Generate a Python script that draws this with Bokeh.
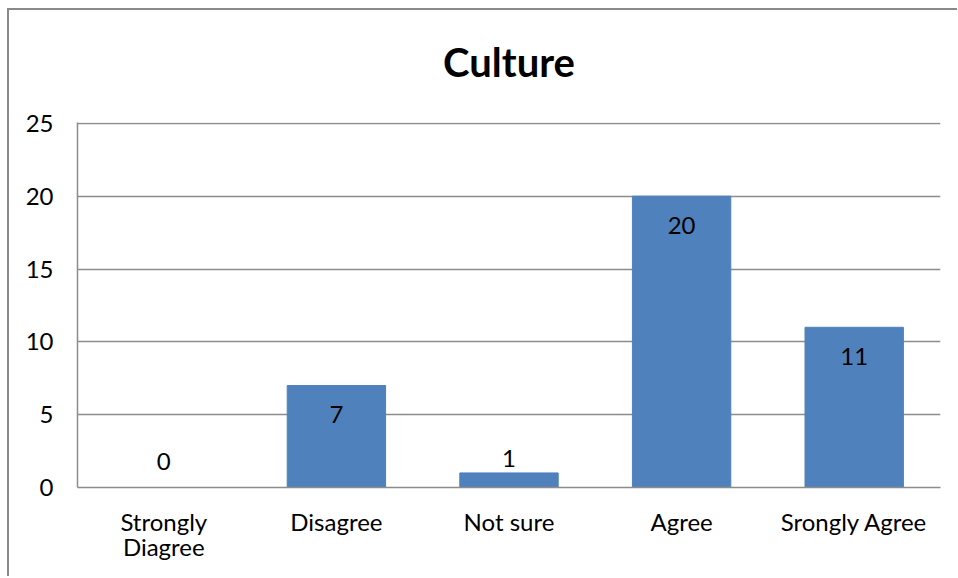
from bokeh.plotting import figure
from bokeh.models import FactorRange, ColumnDataSource, FixedTicker, Range1d, Title
from bokeh.embed import file_html
from bokeh.resources import INLINE
from bokeh.core.properties import value

# Survey responses for the "Culture" question
categories = ["Strongly\nDiagree", "Disagree", "Not sure", "Agree", "Srongly Agree"]
counts = [0, 7, 1, 20, 11]
y_ticks = [0, 5, 10, 15, 20, 25]

FONT = "Lato"
BAR_COLOR = "#4F81BD"
GRID_COLOR = "#8c8c8c"

# data labels sit inside the top of tall bars, above short ones
label_offsets = [29 if v >= 5 else (-26 if v == 0 else -14) for v in counts]
source = ColumnDataSource(dict(
    cat=categories,
    count=counts,
    label=[str(v) for v in counts],
    yoff=label_offsets,
))

p = figure(
    x_range=FactorRange(*categories),
    y_range=Range1d(0, 25.06),
    width=950, height=568,
    output_backend="svg",
    toolbar_location=None,
    min_border_left=68, min_border_right=19,
    min_border_top=112, min_border_bottom=91,
)
p.margin = (8, 0, 0, 7)
p.styles = {"border-left": "2px solid #8a8a8a", "border-top": "2px solid #8a8a8a"}

# blank band between the heading and the plot area
p.add_layout(Title(text=" ", text_font_size="1px", standoff=8), "above")

p.title.text = "Culture"
p.title.align = "center"
p.title.vertical_align = "top"
p.title.text_font = FONT
p.title.text_font_size = "40px"
p.title.text_font_style = "bold"
p.title.text_color = "black"
p.title.offset = 0
p.title.standoff = 47

p.vbar(x="cat", top="count", width=0.57, source=source,
       fill_color=BAR_COLOR, line_color=BAR_COLOR)

p.text(x="cat", y="count", text="label", y_offset="yoff", source=source,
       text_align="center", text_baseline="middle",
       text_font=value(FONT), text_font_size="24px", text_color="black")

p.outline_line_color = None
p.xgrid.grid_line_color = None
p.ygrid.grid_line_color = GRID_COLOR
p.ygrid.grid_line_width = 1.5
p.yaxis.ticker = FixedTicker(ticks=y_ticks)

for ax in (p.xaxis[0], p.yaxis[0]):
    ax.axis_line_color = GRID_COLOR
    ax.axis_line_width = 1.5
    ax.major_tick_line_color = None
    ax.minor_tick_line_color = None
    ax.major_label_text_font = FONT
    ax.major_label_text_font_size = "24px"
    ax.major_label_text_color = "black"
    ax.major_label_text_line_height = 0.87

p.yaxis.major_label_standoff = 18
p.xaxis.major_label_standoff = 13

open("out.html", "w").write(file_html(p, INLINE))
